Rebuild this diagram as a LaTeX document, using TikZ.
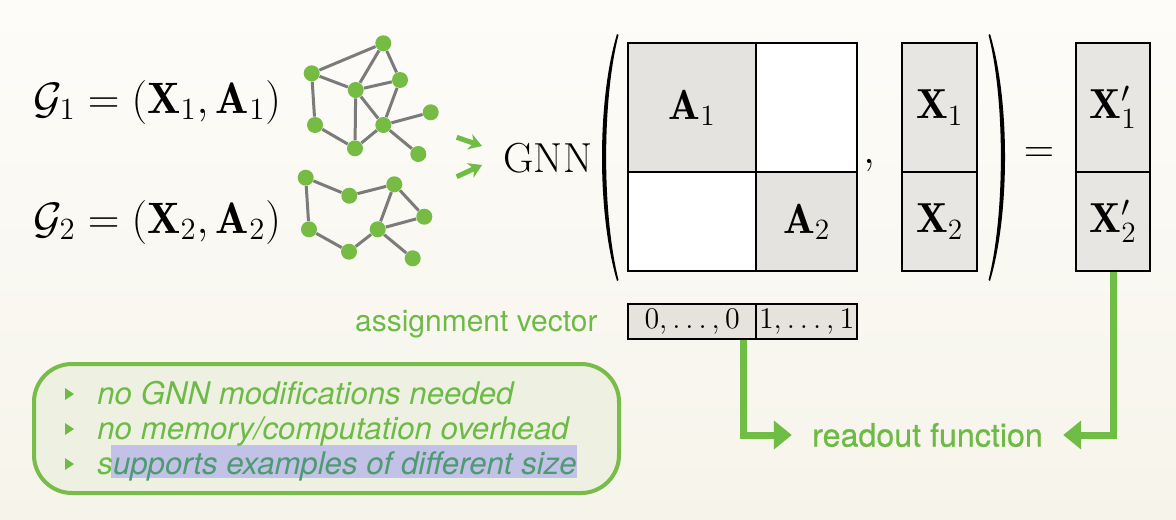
\RequirePackage{fix-cm}
\documentclass[tikz,border=0pt]{standalone}
\usepackage{fontspec}
\setsansfont{TeX Gyre Heros}
\newfontfamily\rdfont[FakeBold=0.6]{TeX Gyre Heros}
\usetikzlibrary{arrows.meta}
\definecolor{bgtop}{HTML}{FDFCF9}
\definecolor{bgbot}{HTML}{F6F4EA}
\definecolor{agreen}{HTML}{70BD45}
\definecolor{tgreen}{HTML}{6DBB46}
\definecolor{gnode}{HTML}{76BB43}
\definecolor{gedge}{HTML}{7B7B7B}
\definecolor{cellgray}{HTML}{E4E3E0}
\definecolor{colgray}{HTML}{E7E6E3}
\definecolor{avgray}{HTML}{E6E3DC}
\definecolor{boxfill}{HTML}{EEF0E1}
\definecolor{boxdraw}{HTML}{78BD4A}
\definecolor{hl}{HTML}{C2C2E6}
\definecolor{hltext}{HTML}{4E9A72}
\begin{document}
\begin{tikzpicture}[x=0.5pt,y=-0.5pt,
  gn/.style={circle,fill=gnode,inner sep=0,minimum size=8pt},
  ge/.style={draw=gedge,line width=1.5pt},
  cell/.style={draw=black,line width=1.1pt,inner sep=0,anchor=north west,
    font=\fontsize{21pt}{25pt}\selectfont},
  mathlbl/.style={font=\fontsize{21pt}{25pt}\selectfont,inner sep=0},
  avcell/.style={draw=black,line width=1.1pt,inner sep=0,anchor=north west,
    fill=avgray,minimum height=17.5pt,font=\fontsize{15pt}{18pt}\selectfont},
  garrow/.style={draw=agreen,line width=3.5pt,line join=miter,
    -{Triangle[length=9pt,width=14pt]}},
  sarrow/.style={draw=agreen,line width=2.5pt,-{Stealth[length=6.5pt,width=8pt]}},
  bullet/.style={font=\sffamily\itshape\fontsize{15.6pt}{18pt}\selectfont,
    text=tgreen,anchor=base west,inner sep=0}]
\useasboundingbox (0,0) rectangle (1176,519);
\shade[top color=bgtop,bottom color=bgbot] (0,0) rectangle (1176,519);

% graph labels
\node[mathlbl,anchor=base west,font=\fontsize{22pt}{26pt}\selectfont] (g1) at (33,113) {$\mathcal{G}_1=(\mathbf{X}_1,\mathbf{A}_1)$};
\node[mathlbl,anchor=base west,font=\fontsize{22pt}{26pt}\selectfont] (g2) at (33,233) {$\mathcal{G}_2=(\mathbf{X}_2,\mathbf{A}_2)$};

% graph 1
\node[gn] (a) at (383.3,43.3) {};
\node[gn] (b) at (311.7,73.3) {};
\node[gn] (c) at (400,80) {};
\node[gn] (d) at (355.7,90) {};
\node[gn] (e) at (430.7,112.3) {};
\node[gn] (f) at (315,125) {};
\node[gn] (g) at (383.3,125) {};
\node[gn] (h) at (355,148.3) {};
\node[gn] (i) at (418.3,154) {};
\foreach \u/\v in {a/b,a/d,a/c,b/d,c/d,c/g,d/g,d/h,b/f,f/h,h/g,g/e,g/i}
  \draw[ge] (\u) -- (\v);
% graph 2
\node[gn] (j) at (305.7,177.7) {};
\node[gn] (k) at (349.3,195.7) {};
\node[gn] (l) at (394.3,184.3) {};
\node[gn] (m) at (424.3,216.7) {};
\node[gn] (n) at (309,229.3) {};
\node[gn] (o) at (377.7,229.3) {};
\node[gn] (p) at (349,251.7) {};
\node[gn] (q) at (412.7,258.3) {};
\foreach \u/\v in {j/k,k/l,l/m,l/o,m/o,j/n,n/p,p/o,o/q}
  \draw[ge] (\u) -- (\v);

% small arrows
\coordinate (s1a) at (456.7,137.3); \coordinate (s1b) at (482,146);
\coordinate (s2a) at (456.7,176.7); \coordinate (s2b) at (482,165);
\draw[sarrow] (s1a) -- (s1b);
\draw[sarrow] (s2a) -- (s2b);

% GNN
\node[mathlbl,anchor=base west] (gnn) at (503,172) {GNN};

% parentheses
\fill[black] (617,34) .. controls (597,100) and (597,214) .. (617,281)
  -- (618.5,280) .. controls (602,214) and (602,100) .. (618.5,35) -- cycle;
\fill[black] (990,34) .. controls (1010,100) and (1010,214) .. (990,281)
  -- (988.5,280) .. controls (1005,214) and (1005,100) .. (988.5,35) -- cycle;

% block matrix
\node[cell,fill=cellgray,minimum width=64pt,minimum height=64.5pt] (A1) at (627,42) {$\mathbf{A}_1$};
\node[cell,fill=white,minimum width=50.5pt,minimum height=64.5pt] (TR) at (755,42) {};
\node[cell,fill=white,minimum width=64pt,minimum height=49.5pt] (BL) at (627,171) {};
\node[cell,fill=cellgray,minimum width=50.5pt,minimum height=49.5pt] (A2) at (755,171) {$\mathbf{A}_2$};
\node[mathlbl,anchor=base] (comma) at (869,163) {$,$};

% X column
\node[cell,fill=colgray,minimum width=37.5pt,minimum height=64.5pt] (X1) at (901,42) {$\mathbf{X}_1$};
\node[cell,fill=colgray,minimum width=37.5pt,minimum height=49.5pt] (X2) at (901,171) {$\mathbf{X}_2$};

\node[mathlbl] (eq) at (1039,155) {$=$};

% X' column
\node[cell,fill=colgray,minimum width=37pt,minimum height=64.5pt] (X1p) at (1075,42) {$\mathbf{X}_1'$};
\node[cell,fill=colgray,minimum width=37pt,minimum height=49.5pt] (X2p) at (1075,171) {$\mathbf{X}_2'$};

% assignment vector
\node[avcell,minimum width=64pt] (av0) at (627,303) {$0,\ldots,0$};
\node[avcell,minimum width=50.5pt] (av1) at (755,303) {$1,\ldots,1$};
\node[font=\sffamily\fontsize{15pt}{18pt}\selectfont,text=tgreen,anchor=base east,inner sep=0]
  (avlabel) at (598,331) {assignment vector};

% readout
\node[font=\rdfont\fontsize{16.1pt}{19pt}\selectfont,text=tgreen,inner xsep=10pt,inner ysep=0]
  (readout) at (927.5,435) {readout function};
\draw[garrow] ([xshift=-7pt]av0.south east) |- (readout.west);
\draw[garrow] (X2p.south) |- (readout.east);

% box with bullets
\draw[draw=boxdraw,fill=boxfill,line width=2pt,rounded corners=19pt] (34,364) rectangle (619,493);
\fill[hl] (111,445) rectangle (577,478);
\foreach \y in {394,429,464}
  \fill[tgreen] (65,\y-6) -- (74,\y) -- (65,\y+6) -- cycle;
\node[bullet] (b1) at (97,404) {no GNN modifications needed};
\node[bullet] (b2) at (97,439) {no memory/computation overhead};
\node[bullet] (b3) at (97,474) {s\textcolor{hltext}{upports examples of different size}};
\end{tikzpicture}
\end{document}
